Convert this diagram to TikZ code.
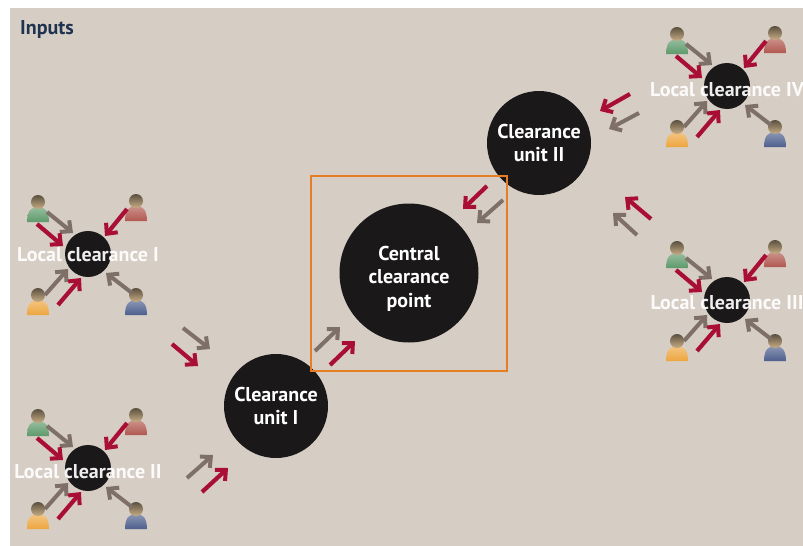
\documentclass[tikz,border=0pt]{standalone}
\usepackage{fontspec}
\setmainfont{PT Sans}
\usetikzlibrary{arrows.meta,positioning}

\definecolor{paper}{HTML}{D6CDC5}
\definecolor{hubblack}{HTML}{1A1818}
\definecolor{flowred}{HTML}{A90F35}
\definecolor{flowgrey}{HTML}{7E7068}
\definecolor{boxorange}{HTML}{E87E24}
\definecolor{inkblue}{HTML}{1F3350}
\definecolor{skin}{HTML}{C9AD84}
\definecolor{hair}{HTML}{5A5040}
\definecolor{bodygreen}{HTML}{5E9A6B}
\definecolor{bodyrose}{HTML}{B0584F}
\definecolor{bodyorange}{HTML}{EDA63F}
\definecolor{bodyblue}{HTML}{4D5F8E}

\tikzset{
	hub/.style = { circle, fill=hubblack, text=white, font=\bfseries, align=center, inner sep=0pt, minimum size=46pt },
	unit/.style = { hub, minimum size=104pt, font=\fontsize{20}{23.5}\bfseries },
	central/.style = { hub, minimum size=139pt, font=\fontsize{20}{23.5}\bfseries },
	hublabel/.style = { text=white, font=\fontsize{20}{22}\bfseries, inner sep=0pt, opacity=0.93 },
	head/.style = { circle, top color=hair, bottom color=skin, minimum size=14pt, inner sep=0pt },
	redflow/.style = { line width=4.2pt, flowred, -{Straight Barb[length=8pt,width=15pt,line width=4pt]} },
	greyflow/.style = { line width=4pt, flowgrey, -{Straight Barb[length=8pt,width=15pt,line width=4pt]} }
}

% one person: name, x, y, colour of the body
\newcommand{\person}[4]{
	\shade [top color=#4!65!white, bottom color=#4] (#2-11,#3+15) .. controls (#2-11,#3+3) and (#2-6,#3) .. (#2,#3) .. controls (#2+6,#3) and (#2+11,#3+3) .. (#2+11,#3+15) -- cycle;
	\node (#1) [head] at (#2,#3-5) {};
}

% one local clearance with its four persons and arrows
\newcommand{\localgroup}[5]{
	\begin{scope}[shift={(#2,#3)}]
	\node (#1hub) [hub] at (0,0) {};
	\person{#1green}{-50}{-47}{bodygreen}
	\person{#1rose}{48}{-48}{bodyrose}
	\person{#1orange}{-50}{46}{bodyorange}
	\person{#1blue}{48}{46}{bodyblue}

	\coordinate (#1a) at (-41,-42);
	\coordinate (#1b) at (-15,-21);
	\coordinate (#1c) at (-51,-30);
	\coordinate (#1d) at (-25,-8);
	\coordinate (#1e) at (39,-45);
	\coordinate (#1f) at (17,-18);
	\coordinate (#1g) at (-43,41);
	\coordinate (#1h) at (-20,15);
	\coordinate (#1i) at (-30,51);
	\coordinate (#1j) at (-7,24);
	\coordinate (#1k) at (44,39);
	\coordinate (#1l) at (18,19);

	\draw [greyflow] (#1a) -- (#1b);
	\draw [redflow] (#1c) -- (#1d);
	\draw [redflow] (#1e) -- (#1f);
	\draw [greyflow] (#1g) -- (#1h);
	\draw [redflow] (#1i) -- (#1j);
	\draw [greyflow] (#1k) -- (#1l);
	\node (#1label) [hublabel] at (0,#5) {#4};
	\end{scope}
}

\begin{document}
\begin{tikzpicture}[x=1pt,y=-1pt]
	\useasboundingbox (0,0) rectangle (803,546);
	\node (sheet) [fill=paper, inner sep=0pt, minimum width=793pt, minimum height=538pt, anchor=north west] at (10,8) {};
	\node (inputs) [text=inkblue, font=\fontsize{20}{22}\bfseries, anchor=west, inner sep=0pt] at (20,29) {Inputs};

	% local clearances
	\localgroup{lcOne}{88}{254}{Local clearance I}{1}
	\localgroup{lcTwo}{88}{468}{Local clearance II}{4}
	\localgroup{lcThree}{727}{300}{Local clearance III}{3}
	\localgroup{lcFour}{727}{86}{Local clearance IV}{3.5}

	% clearance units and central point
	\node (unitOne) [unit] at (276,406) {Clearance\\unit I};
	\node (unitTwo) [unit] at (539,143) {Clearance\\unit II};
	\node (centralPoint) [central] at (409,273) {\rule{0pt}{25pt}Central\\clearance\\point};
	\node (centralBox) [draw=boxorange, line width=2pt, minimum width=196pt, minimum height=195pt, inner sep=0pt] at (409,273.5) {};

	% free ends of the arrows
	\coordinate (oneGreyA) at (183,328);
	\coordinate (oneGreyB) at (210,349);
	\coordinate (oneRedA) at (172,344);
	\coordinate (oneRedB) at (198,366);
	\coordinate (twoGreyA) at (187,478);
	\coordinate (twoGreyB) at (213,455);
	\coordinate (twoRedA) at (202,492);
	\coordinate (twoRedB) at (228,468);
	\coordinate (midGreyA) at (315,351);
	\coordinate (midGreyB) at (340,327);
	\coordinate (midRedA) at (330,365);
	\coordinate (midRedB) at (355,341);
	\coordinate (topRedA) at (487,186);
	\coordinate (topRedB) at (463,209);
	\coordinate (topGreyA) at (503,200);
	\coordinate (topGreyB) at (477,223);
	\coordinate (fourRedA) at (630,94);
	\coordinate (fourRedB) at (600,111);
	\coordinate (fourGreyA) at (639,113);
	\coordinate (fourGreyB) at (609,129);
	\coordinate (threeRedA) at (651,219);
	\coordinate (threeRedB) at (625,197);
	\coordinate (threeGreyA) at (637,235);
	\coordinate (threeGreyB) at (613,213);

	% paths
	\draw [greyflow] (oneGreyA) -- (oneGreyB);
	\draw [redflow] (oneRedA) -- (oneRedB);
	\draw [greyflow] (twoGreyA) -- (twoGreyB);
	\draw [redflow] (twoRedA) -- (twoRedB);
	\draw [greyflow] (midGreyA) -- (midGreyB);
	\draw [redflow] (midRedA) -- (midRedB);
	\draw [redflow] (topRedA) -- (topRedB);
	\draw [greyflow] (topGreyA) -- (topGreyB);
	\draw [redflow] (fourRedA) -- (fourRedB);
	\draw [greyflow] (fourGreyA) -- (fourGreyB);
	\draw [redflow] (threeRedA) -- (threeRedB);
	\draw [greyflow] (threeGreyA) -- (threeGreyB);
\end{tikzpicture}
\end{document}
